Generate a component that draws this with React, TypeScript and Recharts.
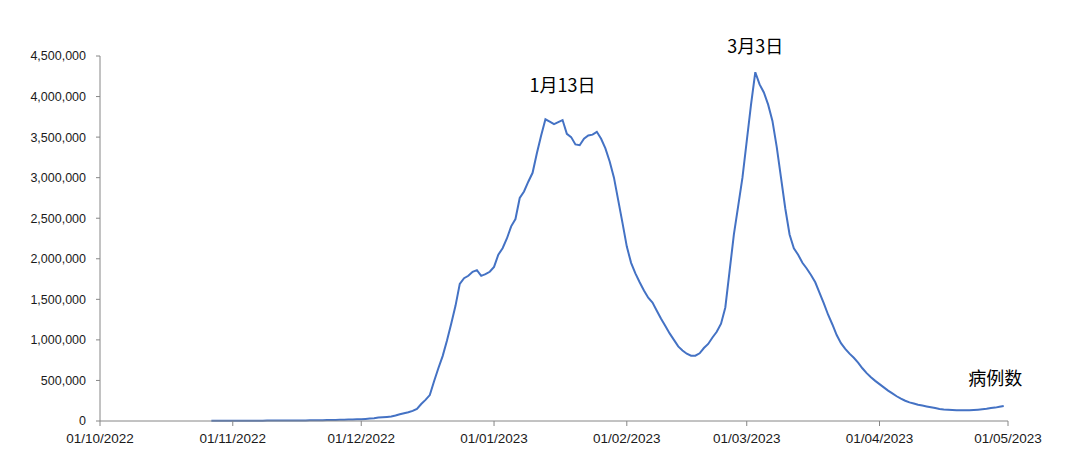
import React from 'react';
import { LineChart, Line, XAxis, YAxis, ReferenceDot } from 'recharts';

// x axis runs in days from this date
const AXIS_START = '2022-10-01';
const FIRST_DAY = '2022-10-27';

const tickDates = [
  '2022-10-01', '2022-11-01', '2022-12-01', '2023-01-01',
  '2023-02-01', '2023-03-01', '2023-04-01', '2023-05-01',
];
const tickLabels = [
  '01/10/2022', '01/11/2022', '01/12/2022', '01/01/2023',
  '01/02/2023', '01/03/2023', '01/04/2023', '01/05/2023',
];
const yTicks = [0, 500000, 1000000, 1500000, 2000000, 2500000, 3000000, 3500000, 4000000, 4500000];

// daily cases, starting at FIRST_DAY
const dailyCases = [
  // Oct 27 - 31
  2000, 2000, 2000, 2000, 3000,
  // Nov
  3000, 3000, 3000, 3000, 4000, 4000, 4000, 4000, 5000, 5000,
  5000, 5000, 6000, 6000, 6000, 6000, 7000, 7000, 8000, 8000,
  9000, 10000, 11000, 12000, 13000, 14000, 15000, 17000, 19000, 21000,
  // Dec
  23000, 26000, 30000, 35000, 42000, 46000, 50000, 55000, 68000, 84000,
  95000, 107000, 125000, 150000, 210000, 260000, 320000, 490000, 650000, 800000,
  990000, 1200000, 1420000, 1690000, 1760000, 1790000, 1840000, 1860000, 1790000, 1810000,
  1840000,
  // Jan
  1900000, 2050000, 2130000, 2250000, 2400000, 2490000, 2750000, 2830000, 2950000, 3060000,
  3300000, 3520000, 3720000, 3690000, 3660000, 3685000, 3710000, 3540000, 3500000, 3410000,
  3400000, 3480000, 3520000, 3530000, 3565000, 3480000, 3360000, 3200000, 3000000, 2720000,
  2440000,
  // Feb
  2150000, 1950000, 1820000, 1710000, 1610000, 1520000, 1460000, 1360000, 1260000, 1170000,
  1080000, 1000000, 920000, 870000, 830000, 805000, 805000, 835000, 900000, 950000,
  1030000, 1100000, 1200000, 1400000, 1850000, 2300000, 2650000, 3000000,
  // Mar
  3450000, 3900000, 4300000, 4150000, 4050000, 3900000, 3700000, 3380000, 3000000, 2620000,
  2300000, 2130000, 2050000, 1950000, 1880000, 1800000, 1710000, 1580000, 1450000, 1310000,
  1190000, 1060000, 960000, 890000, 830000, 780000, 720000, 650000, 590000, 540000,
  495000,
  // Apr
  455000, 415000, 375000, 340000, 305000, 275000, 250000, 230000, 215000, 200000,
  190000, 180000, 170000, 160000, 148000, 142000, 138000, 135000, 132000, 131000,
  132000, 133000, 136000, 140000, 145000, 150000, 160000, 165000, 175000, 185000,
];

const annotationTexts = ['1月13日', '3月3日', '病例数'];
const annotationDates = ['2023-01-17', '2023-03-03', '2023-04-28'];
const annotationValues = [4130000, 4620000, 518000];

const dayOf = (iso: string) => (Date.parse(iso) - Date.parse(AXIS_START)) / 86400000;

const firstIdx = dayOf(FIRST_DAY);
const chartData = dailyCases.map((v, i) => ({ day: firstIdx + i, cases: v }));
const xTicks = tickDates.map(dayOf);

const axisColor = '#868686';
const textColor = '#1a1a1a';

export default function App() {
  return (
    <div style={{ width: 1080, height: 451, background: '#fff' }}>
      <style>{`body { margin: 0; }`}</style>
      <LineChart
        width={1080}
        height={451}
        data={chartData}
        margin={{ top: 56, right: 72, bottom: 0, left: 0 }}
      >
        <XAxis
          dataKey="day"
          type="number"
          domain={[0, xTicks[xTicks.length - 1]]}
          ticks={xTicks}
          interval={0}
          tickFormatter={(v) => tickLabels[xTicks.indexOf(v)] ?? ''}
          height={30}
          stroke={axisColor}
          tickSize={5}
          tickMargin={7}
          tick={{ fill: textColor, fontSize: 13.5, fontFamily: 'Liberation Sans, Arial, sans-serif' }}
        />
        <YAxis
          type="number"
          domain={[0, 4500000]}
          ticks={yTicks}
          interval={0}
          width={100}
          stroke={axisColor}
          tickSize={4}
          tickMargin={10}
          tickFormatter={(v) => Number(v).toLocaleString('en-US')}
          tick={{ fill: textColor, fontSize: 12.5, fontFamily: 'Liberation Sans, Arial, sans-serif' }}
        />
        <Line
          type="linear"
          dataKey="cases"
          stroke="#4472C4"
          strokeWidth={2}
          dot={false}
          isAnimationActive={false}
        />
        {annotationTexts.map((t, i) => (
          <ReferenceDot
            key={t}
            x={dayOf(annotationDates[i])}
            y={annotationValues[i]}
            r={0}
            fill="none"
            stroke="none"
            ifOverflow="visible"
            label={{
              value: t,
              position: 'center',
              fill: '#000',
              fontSize: 18,
              fontFamily: '"Noto Sans CJK SC", sans-serif',
            }}
          />
        ))}
      </LineChart>
    </div>
  );
}
